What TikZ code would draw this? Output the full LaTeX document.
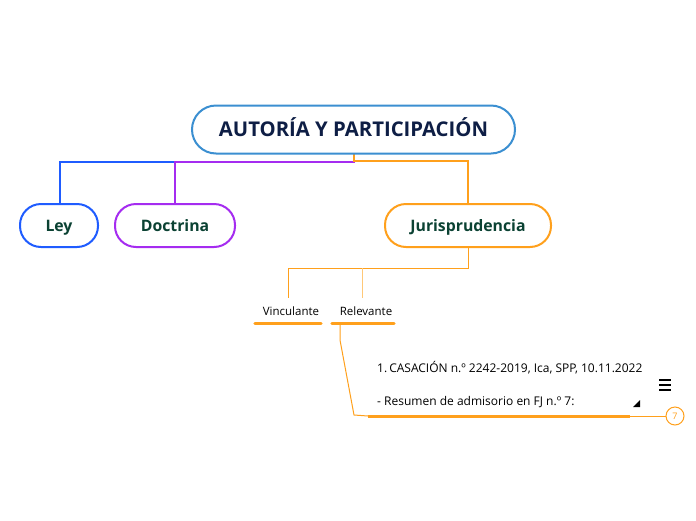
\documentclass[tikz,border=0pt]{standalone}
\usepackage{fontspec}
\setmainfont{Open Sans}
\definecolor{mainblue}{HTML}{3B8FD1}
\definecolor{leyblue}{HTML}{1F5CFF}
\definecolor{docpurple}{HTML}{A52CF0}
\definecolor{jurorange}{HTML}{FFA01C}
\definecolor{lightorange}{HTML}{FFC878}
\definecolor{maintext}{HTML}{0E1E45}
\definecolor{childtext}{HTML}{0B4233}
\begin{document}
\begin{tikzpicture}[x=1pt,y=-1pt,
  topic/.style={draw=mainblue, line width=2pt, fill=white, rounded corners=24pt,
    minimum width=323pt, minimum height=48pt, inner sep=0pt,
    text height=14.6pt, text depth=0pt,
    font=\fontsize{20.3}{22}\selectfont\bfseries, text=maintext},
  sub/.style={draw=#1, line width=2pt, fill=white, rounded corners=21pt,
    minimum height=43pt, inner sep=0pt, text height=11.4pt, text depth=0pt,
    font=\fontsize{15.8}{18}\selectfont\bfseries, text=childtext},
  leaf/.style={inner sep=0pt, minimum height=24pt, font=\fontsize{11.5}{13}\selectfont, text=black},
  conn/.style={line width=2pt, #1},
  thin/.style={line width=1pt, jurorange},
  under/.style={line width=3pt, jurorange, line cap=round}
]
\useasboundingbox (0,0) rectangle (696,520);
\fill[white] (0,0) rectangle (696,520);

% connectors from topic
\coordinate (j1) at (354,162);
\draw[conn=leyblue] (354,153) -- (j1) -- (60,162) -- (60,204);
\draw[conn=docpurple] (354,153) -- (j1) -- (175,162) -- (175,204);
\draw[conn=jurorange] (354,153) -- (354,161) -- (468,161) -- (468,204);

\node[topic] (main) at (353.5,129.5) {AUTORÍA Y PARTICIPACIÓN};
\node[sub=leyblue, minimum width=78pt] (ley) at (59,225.5) {Ley};
\node[sub=docpurple, minimum width=120pt] (doc) at (175,225.5) {Doctrina};
\node[sub=jurorange, minimum width=166pt] (jur) at (468,225.5) {Jurisprudencia};

% leaves
\node[leaf, minimum width=68pt] (vin) at (288,311) {\hspace*{6pt}Vinculante};
\node[leaf, minimum width=64pt] (rel) at (363,311) {\hspace*{6pt}Relevante};
\draw[under] ([xshift=1pt]vin.south west) -- ([xshift=-1pt]vin.south east);
\draw[under] ([xshift=1pt]rel.south west) -- ([xshift=-1pt]rel.south east);

\coordinate (jb) at (468,268);
\draw[thin] (jur.south) -- (jb) -- (288,268) -- (288,298);
\draw[line width=1pt, lightorange] (362,268) -- (362,298);

% casacion
\node[inner sep=0pt, anchor=south west, minimum width=262pt, minimum height=60pt] (cas) at (368,416) {};
\node[anchor=west, inner sep=0pt, font=\fontsize{12}{13}\selectfont] (l1) at (377,368)
  {1.\,CASACIÓN n.º 2242-2019, Ica, SPP, 10.11.2022};
\node[anchor=west, inner sep=0pt, font=\fontsize{12}{13}\selectfont] (l2) at (377,402)
  {- Resumen de admisorio en FJ n.º 7:};
\coordinate (r1) at (340,340);
\coordinate (r2) at (354,415);
\draw[thin] (340,324) -- (r1) -- (r2) -- (cas.south west);
\draw[under, line cap=butt] (cas.south west) -- (cas.south east);

% count badge
\node[circle, draw=jurorange, line width=1pt, minimum size=18pt, inner sep=0pt,
  text=jurorange, font=\fontsize{9}{10}\selectfont] (cnt) at (675,416) {7};
\draw[thin] (cas.south east) -- (cnt.west);

% icons
\draw[line width=1.3pt, black] (659,380) -- (671,380) (659,385) -- (671,385) (659,390) -- (671,390);
\fill[black] (633,407) -- (640,407) -- (640,400) -- cycle;
\end{tikzpicture}
\end{document}
